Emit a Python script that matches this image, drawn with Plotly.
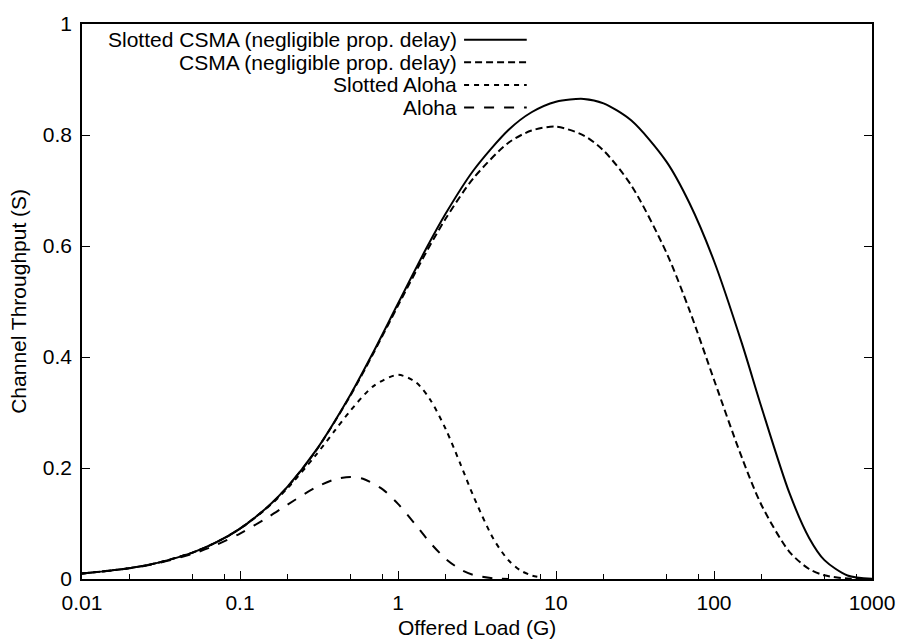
import plotly.graph_objects as go

# Offered load G and channel throughput S for each access scheme
csma_load = [0.01, 0.02, 0.03, 0.05, 0.07, 0.1, 0.15, 0.2, 0.3, 0.5, 0.7, 1, 1.5, 2, 3, 5, 7,
             10, 15, 20, 30, 50, 70, 100, 150, 200, 300, 400, 500, 700, 1000]
slotted_csma = [0.0099, 0.0196, 0.0291, 0.0476, 0.0654, 0.0908, 0.1303, 0.1664, 0.2303, 0.3322,
                0.4095, 0.4963, 0.594, 0.658, 0.736, 0.809, 0.841, 0.860, 0.865, 0.857, 0.826,
                0.752, 0.677, 0.573, 0.425, 0.309, 0.155, 0.074, 0.034, 0.0064, 0.0005]
csma = [0.0099, 0.0196, 0.0291, 0.0476, 0.0654, 0.0907, 0.1301, 0.1661, 0.2295, 0.3306,
        0.4072, 0.4926, 0.5875, 0.649, 0.722, 0.786, 0.808, 0.815, 0.799, 0.772, 0.709,
        0.588, 0.484, 0.359, 0.219, 0.133, 0.049, 0.018, 0.0066, 0.0009, 0.0]

slotted_aloha_load = [0.01, 0.02, 0.03, 0.05, 0.07, 0.1, 0.15, 0.2, 0.3, 0.4, 0.5, 0.7, 1,
                      1.3, 1.6, 2, 2.5, 3, 4, 5, 6, 7, 8]
slotted_aloha = [0.0099, 0.0196, 0.0291, 0.0476, 0.0653, 0.0905, 0.1291, 0.1637, 0.2222,
                 0.2681, 0.3033, 0.3476, 0.3679, 0.3543, 0.323, 0.2707, 0.2052, 0.1494,
                 0.0733, 0.0337, 0.0149, 0.0064, 0.0027]

aloha_load = [0.01, 0.02, 0.03, 0.05, 0.07, 0.1, 0.15, 0.2, 0.3, 0.4, 0.5, 0.6, 0.8, 1,
              1.3, 1.6, 2, 2.5, 3, 4, 5]
aloha = [0.0098, 0.0192, 0.0283, 0.0452, 0.0609, 0.0819, 0.1111, 0.1341, 0.1646, 0.1797,
         0.1839, 0.1807, 0.1615, 0.1353, 0.0969, 0.0652, 0.0366, 0.0168, 0.0074, 0.0013,
         0.0002]

series_names = ["Slotted CSMA (negligible prop. delay)", "CSMA (negligible prop. delay)",
                "Slotted Aloha", "Aloha"]

x_tick_vals = [0.01, 0.1, 1, 10, 100, 1000]
x_tick_text = ["0.01", "0.1", "1", "10", "100", "1000"]
x_minor_vals = [0.02, 0.05, 0.08, 0.2, 0.5, 0.8, 2, 5, 8, 20, 50, 80, 200, 500, 800]
y_tick_vals = [0, 0.2, 0.4, 0.6, 0.8, 1]
y_tick_text = ["0", "0.2", "0.4", "0.6", "0.8", "1"]

FONT = "Liberation Sans, Arial, Helvetica, sans-serif"
W, H = 907, 642
L, R, T, B = 82, 31, 14, 63
PW, PH = W - L - R, H - T - B

styles = [
    dict(dash="solid", width=2),
    dict(dash="7px,4px", width=2),
    dict(dash="5px,5px", width=2),
    dict(dash="10px,10px", width=2),
]
data = [(csma_load, slotted_csma), (csma_load, csma),
        (slotted_aloha_load, slotted_aloha), (aloha_load, aloha)]

fig = go.Figure()
for (gx, sy), name, st in zip(data, series_names, styles):
    fig.add_trace(go.Scatter(
        x=gx, y=sy, mode="lines", name=name, showlegend=False,
        line=dict(color="black", width=st["width"], dash=st["dash"], shape="spline",
                  smoothing=0.8),
    ))

# Key in the upper left: right-aligned labels followed by a line sample
def px_x(p):
    return (p - L) / PW

def px_y(p):
    return (H - B - p) / PH

key_rows = [30, 53, 76, 99]
shapes = []
annotations = []
for row, name, st in zip(key_rows, series_names, styles):
    annotations.append(dict(
        x=px_x(461), y=px_y(row), xref="paper", yref="paper", text=name,
        showarrow=False, xanchor="right", yanchor="middle",
        font=dict(family=FONT, size=21, color="black"),
    ))
    shapes.append(dict(
        type="line", xref="paper", yref="paper",
        x0=px_x(466), x1=px_x(529), y0=px_y(row), y1=px_y(row),
        line=dict(color="black", width=st["width"], dash=st["dash"]),
    ))

annotations.append(dict(
    x=0.5, y=px_y(628), xref="paper", yref="paper", text="Offered Load (G)",
    showarrow=False, xanchor="center", yanchor="middle",
    font=dict(family=FONT, size=21, color="black"),
))
annotations.append(dict(
    x=px_x(18), y=0.5, xref="paper", yref="paper", text="Channel Throughput (S)",
    showarrow=False, xanchor="center", yanchor="middle", textangle=-90,
    font=dict(family=FONT, size=21, color="black"),
))

fig.update_layout(
    width=W, height=H,
    margin=dict(l=L, r=R, t=T, b=B, pad=0),
    paper_bgcolor="white", plot_bgcolor="white",
    font=dict(family=FONT, size=21, color="black"),
    shapes=shapes, annotations=annotations,
    xaxis=dict(
        type="log", range=[-2, 3], tickmode="array", tickvals=x_tick_vals,
        ticktext=x_tick_text, ticks="inside", ticklen=8, tickwidth=1.2, tickcolor="black",
        showline=True, linecolor="black", linewidth=1.5, mirror=True,
        showgrid=False, zeroline=False, ticklabelstandoff=4,
        minor=dict(tickmode="array", tickvals=x_minor_vals, ticks="inside", ticklen=5,
                   tickwidth=1.2, tickcolor="black", showgrid=False),
    ),
    yaxis=dict(
        range=[0, 1], tickmode="array", tickvals=y_tick_vals, ticktext=y_tick_text,
        ticks="inside", ticklen=8, tickwidth=1.2, tickcolor="black",
        showline=True, linecolor="black", linewidth=1.5, mirror="ticks",
        showgrid=False, zeroline=False, ticklabelstandoff=4,
    ),
)

fig.write_html("out.html")
